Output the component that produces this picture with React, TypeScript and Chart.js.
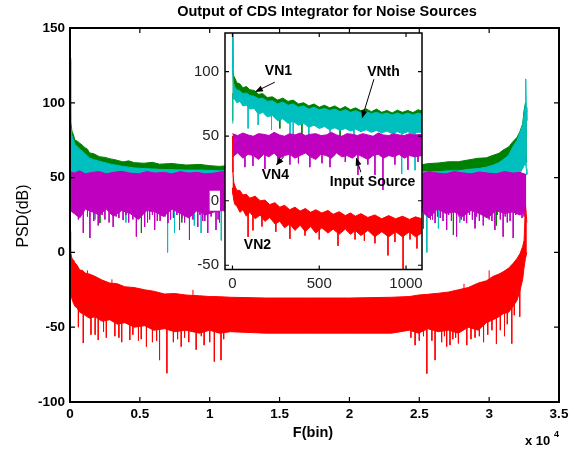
import React, { useEffect, useRef } from "react";
import { Chart, registerables } from "chart.js";

Chart.register(...registerables);

const FONT = '"Liberation Sans", Arial, Helvetica, sans-serif';
const GREEN = "#008000";
const CYAN = "#00bfbf";
const MAGENTA = "#bf00bf";
const RED = "#ff0000";

// ---------------- MAIN PLOT DATA (x in bins, y in dB) ----------------
const greenX = [0, 20, 70, 140, 250, 350, 500, 700, 900, 1070, 1250, 1400, 1700, 2100, 2500, 2900, 3200, 3800, 4200, 4600, 5300, 5900, 6400, 7300, 8300, 9300, 10000, 10700, 11500, 14000, 17000, 20000, 23000, 24300, 25000, 25700, 26400, 27100, 27800, 28500, 29200, 29800, 30300, 30700, 31000, 31400, 31700, 32000, 32200, 32400, 32500, 32600, 32700];
const greenHi = [130, 96, 88, 81, 78.5, 75, 74.5, 73, 71.5, 70, 69, 66.5, 66, 64, 63.5, 62.5, 62, 60.5, 61.2, 60, 59.6, 60.2, 59, 59.4, 58.4, 58.8, 58, 57.5, 58.2, 57, 57.5, 57, 57.5, 58.2, 58.4, 59.4, 59.8, 60.6, 60.6, 61.8, 62.9, 63.2, 65, 66.2, 68.4, 70.5, 74, 77, 80.7, 86, 95, 100, 94];
const greenLo = [60, 62, 60, 58, 56, 55, 54, 53, 52, 51, 50, 49, 48, 47, 46, 46, 45, 45, 44, 44, 44, 43, 43, 43, 43, 43, 43, 43, 43, 43, 43, 43, 43, 43, 43, 43, 43, 43, 43, 44, 44, 45, 45, 46, 47, 48, 50, 52, 55, 58, 62, 66, 60];
const greenDipX = [2140, 5110, 8000, 27440, 30520];
const greenDipFrom = [35, 35, 35, 35, 35];
const greenDipTo = [19.6, 13, 20, 11.6, 18];

const cyanX = [0, 20, 70, 140, 250, 350, 500, 700, 900, 1070, 1250, 1400, 1700, 2100, 2500, 2900, 3200, 3800, 4200, 4600, 5300, 5900, 6400, 7300, 8300, 9300, 10000, 10700, 11500, 14000, 17000, 20000, 23000, 24300, 25000, 25700, 26400, 27100, 27800, 28500, 29200, 29800, 30300, 30700, 31000, 31400, 31700, 32000, 32200, 32400, 32500, 32580, 32620, 32660, 32700];
const cyanHi = [128, 92, 84, 78, 75, 72, 71, 69, 67.5, 66, 64.5, 63, 62, 61, 60, 59, 58.5, 57.5, 57, 56.5, 56, 55.8, 55.5, 55.3, 55, 55, 54.8, 54.5, 54.5, 54, 54, 54, 54, 54, 54, 54, 54, 54.5, 54.5, 55.5, 56, 57, 58.4, 60, 62, 65, 70.7, 75, 80, 85, 92, 98, 116, 97, 88];
const cyanLo = [50, 50, 50, 49, 48, 47, 46, 45, 44, 44, 42, 42, 41, 41, 40, 40, 40, 40, 40, 40, 40, 40, 40, 40, 40, 40, 40, 40, 40, 40, 40, 40, 40, 40, 40, 40, 40, 40, 40, 40, 41, 41, 42, 43, 44, 45, 47, 50, 53, 56, 58, 60, 60, 56, 52];
const cyanDipX = [1800, 4000, 6985, 7480, 8900, 9385, 10830, 25540, 26370, 27900, 29000];
const cyanDipFrom = [35, 35, 35, 35, 35, 35, 35, 35, 35, 35, 35];
const cyanDipTo = [22, 20, 0, 13, 18, 13, 8, 0, 16, 20, 19];

const magX = [0, 300, 700, 1100, 1600, 2100, 2600, 3100, 3700, 4300, 4900, 5500, 6100, 6700, 7300, 7900, 8500, 9100, 9700, 10300, 10900, 11500, 14000, 17000, 20000, 23000, 24500, 25100, 25700, 26300, 26900, 27500, 28100, 28700, 29300, 29900, 30500, 31100, 31700, 32200, 32660];
const magHi = [54, 53, 54.5, 52.5, 53.5, 54, 52.5, 53.5, 54.2, 53, 52.5, 54, 53, 53.5, 52.5, 54, 53, 53.5, 52.5, 53, 54, 53, 53, 53, 53, 53, 53.5, 52.5, 54, 53, 52.5, 54, 53.2, 52.5, 53.8, 53, 52.5, 54, 53, 53.5, 52];
const magLo = [28, 26, 23, 29, 27, 25, 29, 24, 28, 26, 22, 28, 27, 24, 29, 26, 23, 28, 25, 27, 28, 27, 27, 27, 27, 27, 26, 28, 23, 29, 26, 27, 24, 28, 26, 23, 28, 26, 27, 25, 27];
const magDipX = [950, 1425, 2020, 2500, 3090, 3500, 3800, 4200, 4750, 5345, 5700, 6060, 6450, 7010, 7400, 7840, 8200, 8550, 9145, 9500, 9860, 10450, 10700, 24800, 25300, 25800, 26130, 26500, 26960, 27300, 27670, 28000, 28390, 28990, 29300, 29580, 30000, 30410, 31000, 31300, 31720, 32190, 32500,
  600, 1250, 1700, 2300, 2800, 3300, 4000, 4500, 5000, 5550, 5900, 6250, 6800, 7200, 7650, 8000, 8800, 9300, 9650, 10100, 10600, 24600, 25000, 25500, 25950, 26300, 26700, 27100, 27450, 27850, 28200, 28600, 28800, 29100, 29800, 30200, 30600, 30800, 31150, 31500, 31900, 32350];
const magDipFrom = [30, 30, 30, 30, 30, 30, 30, 30, 30, 30, 30, 30, 30, 30, 30, 30, 30, 30, 30, 30, 30, 30, 30, 30, 30, 30, 30, 30, 30, 30, 30, 30, 30, 30, 30, 30, 30, 30, 30, 30, 30, 30, 30,
  30, 30, 30, 30, 30, 30, 30, 30, 30, 30, 30, 30, 30, 30, 30, 30, 30, 30, 30, 30, 30, 30, 30, 30, 30, 30, 30, 30, 30, 30, 30, 30, 30, 30, 30, 30, 30, 30, 30, 30, 30, 30];
const magDipTo = [13, 9.6, 18, 22, 17, 23, 21.6, 20, 10.5, 17, 22, 15, 21, 19.6, 23, 15, 20, 8.3, 17, 21, 13, 15, 20, 21, 16, 22, 19.6, 23, 15, 21, 10.5, 22, 19.6, 16, 21, 18, 22, 15, 10.5, 20, 9.6, 26, 24,
  22, 24, 21, 25, 20, 24, 25, 22, 24, 20, 25, 21, 24, 22, 25, 23, 22, 25, 21, 24, 22, 24, 21, 25, 22, 24, 21, 25, 22, 24, 21, 25, 22, 24, 23, 21, 25, 22, 24, 21, 25, 23];

const redX = [0, 20, 70, 140, 250, 350, 500, 700, 900, 1070, 1400, 1780, 2300, 2850, 3400, 3920, 4600, 5345, 6000, 6770, 7500, 8300, 9265, 10000, 10690, 11500, 14000, 17000, 20000, 23000, 24300, 24950, 25600, 26370, 27100, 27800, 28500, 29220, 29800, 30290, 30700, 31000, 31400, 31720, 32000, 32220, 32400, 32500, 32600, 32700];
const redHi = [14, 2, 0, -4, -5, -7, -8.5, -11.8, -12, -13.8, -14.5, -16, -18.5, -20.5, -21, -23, -23.5, -25, -26, -27.8, -27.5, -28.5, -29, -29.5, -29.6, -30, -30.5, -30.5, -30.5, -30, -29.5, -28.5, -28, -27.3, -26.5, -25, -23.5, -20.5, -19, -16, -14.5, -13, -10.5, -7.3, -4, -0.6, 4, 8, 32, 20];
const redLo = [-32, -28, -30, -31, -34, -36, -37, -40, -41, -42, -44, -43, -46, -45, -48, -47, -50, -49, -52, -51, -53, -52, -54, -52, -54, -53, -54, -54, -54, -54, -52, -54, -51, -53, -52, -54, -50, -52, -47, -45, -43, -41, -40, -36, -32, -25, -18, -10, -4, 0];
const redSpikeX = [600, 950, 1500, 2020, 2600, 3210, 3700, 4280, 4900, 5470, 5900, 6410, 6935, 7400, 7960, 8500, 9030, 9600, 10330, 10810, 24700, 25540, 26130, 26600, 26960, 27400, 27800, 28400, 28990, 29600, 30520, 31100, 31620, 32190, 1250, 3000, 8800, 28200, 30000,
  1800, 2400, 3500, 4500, 5100, 6200, 7700, 8200, 9400, 10000, 11000, 24400, 25000, 25300, 25900, 26800, 27200, 27600, 28700, 29300, 29900, 30200, 30800, 31300, 31800];
const redSpikeFrom = [-35, -38, -41, -42, -43, -44, -45, -46, -47, -48, -49, -50, -50, -50, -50, -50, -50, -50, -50, -50, -50, -50, -49, -49, -49, -49, -49, -48, -48, -46, -40, -38, -34, -24, -30, -35, -40, -40, -30,
  -42, -44, -45, -46, -47, -48, -50, -50, -50, -50, -50, -50, -50, -50, -49, -49, -49, -49, -48, -47, -45, -43, -40, -38, -33];
const redSpikeTo = [-50, -60.6, -55, -58.6, -57, -56, -60, -58.6, -59, -63, -60, -72, -80.8, -60, -63, -60, -65, -62, -73, -72, -62, -81, -72, -60, -63, -58, -60.8, -62, -57, -60, -61, -56, -61, -43, -12, -18, -25, -21, -12,
  -55, -53, -57, -55, -58, -59, -58, -57, -56, -60, -58, -57, -59, -56, -59, -56, -62, -57, -58, -56, -55, -52, -52, -48, -42];

// ---------------- INSET DATA (first ~1100 bins) ----------------
const inXTicks = [0, 500, 1000];
const inYTicks = [-50, 0, 50, 100];

const inGX = [0, 2, 6, 14, 25, 43, 60, 80, 100, 125, 150, 175, 200, 230, 260, 290, 320, 350, 380, 410, 440, 470, 500, 530, 560, 590, 620, 650, 680, 710, 740, 770, 800, 830, 860, 890, 920, 950, 980, 1010, 1040, 1070, 1092];
const inGreenHi = [130, 103, 97, 95, 91.5, 90.5, 87.5, 88.5, 86, 85.5, 82.5, 83, 80, 80.5, 78, 79.5, 77, 78, 75, 76, 73.5, 75, 72.5, 74, 72, 73.5, 71, 73, 70.5, 72, 69.8, 71.2, 69, 71, 68.5, 70, 68, 70.2, 68.5, 70, 68.3, 70.5, 69.5];
const inGreenLo = [62, 83, 82, 81, 79, 79, 76, 76, 74, 74, 70, 71, 68, 68, 65, 66, 63, 64, 62, 62, 60, 61, 59, 60, 58, 59, 57, 58, 57, 58, 56, 57, 56, 57, 55, 56, 55, 56, 55, 56, 55, 55, 55];
const inCyanHi = [128, 98, 91, 88, 86, 85, 83, 83.5, 81.5, 81, 79, 79.5, 77, 77.5, 75, 76.5, 74, 75, 72.5, 73.5, 71, 72.5, 70.5, 71.5, 70, 71, 69, 70.5, 68.5, 69.8, 68, 69, 67.5, 68.5, 67, 68, 66.5, 68, 66.5, 68, 66.5, 68, 67];
const inCyanLo = [60, 80, 79, 78.5, 76, 77, 73.5, 74, 71, 71.5, 67, 68.5, 65, 66, 62, 63.5, 60, 61.5, 58.5, 60, 57, 58.5, 56, 57.5, 55, 56.5, 54.5, 56, 54, 55.5, 53.5, 55, 53, 54.5, 52.5, 54, 52, 53.5, 52, 53.5, 52, 53, 53];
const inCyanDipX = [90, 148, 225, 332, 350, 440, 562, 700, 975, 1052];
const inCyanDipFrom = [75, 70, 66, 62, 61, 59, 57, 56, 55, 55];
const inCyanDipTo = [56, 58.7, 55, 52, 51, 50, 50, 50, 20.8, 23.6];
const inGreenDipX = [273, 400, 620];
const inGreenDipFrom = [65, 62, 58];
const inGreenDipTo = [56, 50, 49];

const inMagX = [0, 30, 60, 90, 120, 150, 180, 210, 240, 270, 300, 330, 360, 390, 420, 450, 480, 510, 540, 570, 600, 630, 660, 690, 720, 750, 780, 810, 840, 870, 900, 930, 960, 990, 1020, 1050, 1092];
const inMagHi = [52, 50.5, 52.5, 51, 50, 52, 51.5, 50.5, 53, 51, 50, 52, 51, 52.5, 50.5, 51.5, 52, 50.5, 51, 53, 51, 50, 52, 51.5, 50.5, 52, 51, 50, 52.5, 51, 50.5, 52, 51, 50.5, 52, 51, 51.5];
const inMagLo = [34, 37, 33, 36, 35, 32, 36, 34, 37, 33, 35, 36, 33, 35, 37, 34, 32, 36, 35, 33, 37, 34, 35, 33, 36, 34, 32, 35, 36, 33, 35, 34, 36, 33, 35, 34, 35];
const inMagDipX = [72, 118, 187, 262, 331, 380, 446, 516, 562, 650, 723, 780, 821, 867, 936, 1011, 1069];
const inMagDipFrom = [40, 40, 40, 40, 40, 40, 40, 40, 40, 40, 40, 40, 40, 40, 40, 40, 40];
const inMagDipTo = [26, 27, 24.6, 30, 28, 29, 26, 29, 26, 30, 20, 28, 20, 8.4, 28, 24, 30];

const inRedX = [0, 3, 8, 14, 25, 43, 60, 80, 100, 131, 160, 187, 215, 245, 273, 300, 330, 360, 390, 420, 450, 480, 515, 550, 580, 615, 650, 680, 708, 740, 780, 820, 860, 900, 940, 980, 1020, 1054, 1092];
const inRedHi = [50, 22, 14, 11.5, 8, 8, 4.5, 5, 2, 3.5, 0, 0.5, -3, -1.5, -5, -3.5, -7, -5, -8, -6, -9, -7, -9.5, -7.5, -10.5, -8.5, -11.5, -9.5, -12, -10, -13, -11, -14, -11.5, -14, -12, -14.5, -12.5, -14];
const inRedLo = [10, 5, 0, -3, -4, -9, -7, -12, -9, -14, -11, -16, -13, -18, -16, -21, -18, -23, -19, -24, -20, -25, -21, -25, -22, -26, -22, -26, -23, -27, -23, -28, -24, -28, -24, -28, -24, -28, -25];
const inRedDipX = [90, 118, 170, 250, 331, 418, 500, 608, 706, 760, 821, 896, 936, 983, 1023, 1063];
const inRedDipFrom = [-7, -9, -12, -15, -18, -20, -21, -21, -22, -22, -22, -23, -23, -23, -23, -23];
const inRedDipTo = [-28, -23, -20, -24, -29.5, -27, -30, -35, -30, -31, -33, -42.4, -32, -56, -30, -37];

// inset annotations, in inset data coordinates
const insetLabels = [
  { text: "VN1", x: 265, y: 100.2 },
  { text: "VNth", x: 870, y: 99.7 },
  { text: "VN4", x: 247, y: 20 },
  { text: "Input Source", x: 807, y: 14.5 },
  { text: "VN2", x: 144, y: -34.8 },
];
const insetArrows = [
  { x1: 244, y1: 91.9, x2: 129, y2: 84.3 },
  { x1: 815, y1: 94.2, x2: 746, y2: 63.8 },
  { x1: 296, y1: 34.2, x2: 250, y2: 27.4 },
  { x1: 740, y1: 22.1, x2: 712, y2: 33.5 },
];

// ---------------- helpers ----------------
function band(xs: number[], hi: number[], lo: number[], color: string, order: number) {
  const common = { borderColor: color, backgroundColor: color, borderWidth: 1, pointRadius: 0, pointHitRadius: 0, order, tension: 0 };
  return [
    { ...common, data: xs.map((x, i) => ({ x, y: hi[i] })), fill: "+1" },
    { ...common, data: xs.map((x, i) => ({ x, y: lo[i] })), fill: false },
  ];
}
function spikes(xs: number[], from: number[], to: number[], color: string, order: number) {
  const data: any[] = [];
  xs.forEach((x, i) => {
    data.push({ x, y: from[i] }, { x, y: to[i] }, { x, y: null });
  });
  return { data, borderColor: color, borderWidth: 1, pointRadius: 0, pointHitRadius: 0, fill: false, spanGaps: false, order };
}

function framePlugin(lw: number, tl: number) {
  return {
    id: "frame",
    afterDatasetsDraw(chart: any) {
      const { ctx, chartArea: a, scales } = chart;
      ctx.save();
      ctx.strokeStyle = "#000";
      ctx.lineWidth = 1.2;
      ctx.beginPath();
      for (const t of scales.x.ticks) {
        const p = scales.x.getPixelForValue(t.value);
        ctx.moveTo(p, a.bottom);
        ctx.lineTo(p, a.bottom - tl);
        ctx.moveTo(p, a.top);
        ctx.lineTo(p, a.top + tl);
      }
      for (const t of scales.y.ticks) {
        const p = scales.y.getPixelForValue(t.value);
        ctx.moveTo(a.left, p);
        ctx.lineTo(a.left + tl, p);
        ctx.moveTo(a.right, p);
        ctx.lineTo(a.right - tl, p);
      }
      ctx.stroke();
      ctx.lineWidth = lw;
      ctx.strokeRect(a.left, a.top, a.right - a.left, a.bottom - a.top);
      ctx.restore();
    },
  };
}

const whiteAreaPlugin = {
  id: "whiteArea",
  beforeDraw(chart: any) {
    const { ctx, chartArea: a } = chart;
    ctx.save();
    ctx.fillStyle = "#fff";
    ctx.fillRect(a.left, a.top, a.right - a.left, a.bottom - a.top);
    ctx.restore();
  },
};

const annotationPlugin = {
  id: "insetNotes",
  afterDraw(chart: any) {
    const { ctx, scales } = chart;
    const sx = scales.x, sy = scales.y;
    ctx.save();
    ctx.fillStyle = "#000";
    ctx.strokeStyle = "#000";
    ctx.lineWidth = 1;
    ctx.font = `bold 14px ${FONT}`;
    ctx.textAlign = "center";
    ctx.textBaseline = "middle";
    for (const l of insetLabels) ctx.fillText(l.text, sx.getPixelForValue(l.x), sy.getPixelForValue(l.y));
    for (const ar of insetArrows) {
      const x1 = sx.getPixelForValue(ar.x1), y1 = sy.getPixelForValue(ar.y1);
      const x2 = sx.getPixelForValue(ar.x2), y2 = sy.getPixelForValue(ar.y2);
      const ang = Math.atan2(y2 - y1, x2 - x1);
      const L = 8, W = 3;
      ctx.beginPath();
      ctx.moveTo(x1, y1);
      ctx.lineTo(x2 - L * 0.6 * Math.cos(ang), y2 - L * 0.6 * Math.sin(ang));
      ctx.stroke();
      ctx.beginPath();
      ctx.moveTo(x2, y2);
      ctx.lineTo(x2 - L * Math.cos(ang) + W * Math.sin(ang), y2 - L * Math.sin(ang) - W * Math.cos(ang));
      ctx.lineTo(x2 - L * Math.cos(ang) - W * Math.sin(ang), y2 - L * Math.sin(ang) + W * Math.cos(ang));
      ctx.closePath();
      ctx.fill();
    }
    ctx.restore();
  },
};

const mainTextPlugin = {
  id: "mainText",
  afterDraw(chart: any) {
    const { ctx } = chart;
    ctx.save();
    ctx.fillStyle = "#000";
    ctx.textBaseline = "middle";
    ctx.textAlign = "center";
    ctx.font = `bold 14.5px ${FONT}`;
    ctx.fillText("Output of CDS Integrator for Noise Sources", 327, 12);
    ctx.fillText("F(bin)", 313, 433);
    ctx.font = `16px ${FONT}`;
    ctx.save();
    ctx.translate(24, 216);
    ctx.rotate(-Math.PI / 2);
    ctx.fillText("PSD(dB)", 0, 0);
    ctx.restore();
    ctx.textAlign = "left";
    ctx.font = `bold 13px ${FONT}`;
    ctx.fillText("x 10", 525, 441);
    ctx.font = `bold 9px ${FONT}`;
    ctx.fillText("4", 554, 435);
    ctx.restore();
  },
};

const baseOptions = {
  animation: false as const,
  responsive: false,
  events: [] as any[],
  plugins: { legend: { display: false }, tooltip: { enabled: false }, title: { display: false } },
  elements: { point: { radius: 0 }, line: { tension: 0 } },
};

export default function App() {
  const mainRef = useRef<HTMLCanvasElement>(null);
  const insetRef = useRef<HTMLCanvasElement>(null);

  useEffect(() => {
    const mainDatasets: any[] = [
      ...band(redX, redHi, redLo, RED, 0),
      spikes(redSpikeX, redSpikeFrom, redSpikeTo, RED, 0),
      ...band(magX, magHi, magLo, MAGENTA, 1),
      spikes(magDipX, magDipFrom, magDipTo, MAGENTA, 1),
      ...band(cyanX, cyanHi, cyanLo, CYAN, 2),
      spikes(cyanDipX, cyanDipFrom, cyanDipTo, CYAN, 2),
      ...band(greenX, greenHi, greenLo, GREEN, 3),
      spikes(greenDipX, greenDipFrom, greenDipTo, GREEN, 3),
    ];
    const main = new Chart(mainRef.current!, {
      type: "line",
      data: { datasets: mainDatasets },
      options: {
        ...baseOptions,
        layout: { padding: { left: 0, right: 21, top: 28, bottom: 0 } },
        scales: {
          x: {
            type: "linear", min: 0, max: 35000,
            afterFit: (s: any) => { s.height = 48; },
            grid: { display: false, drawTicks: false }, border: { display: false },
            ticks: {
              stepSize: 5000, includeBounds: false, autoSkip: false, maxRotation: 0, padding: 4, color: "#000",
              font: { family: FONT, size: 13.5, weight: "bold" },
              callback: (v: any) => String(+(Number(v) / 10000).toFixed(1)),
            },
          },
          y: {
            type: "linear", min: -100, max: 150,
            afterFit: (s: any) => { s.width = 70; },
            grid: { display: false, drawTicks: false }, border: { display: false },
            ticks: { stepSize: 50, includeBounds: false, padding: 5, color: "#000", font: { family: FONT, size: 13.5, weight: "bold" } },
          },
        },
      } as any,
      plugins: [framePlugin(2, 5), mainTextPlugin],
    });

    const insetDatasets: any[] = [
      ...band(inRedX, inRedHi, inRedLo, RED, 0),
      spikes(inRedDipX, inRedDipFrom, inRedDipTo, RED, 0),
      ...band(inMagX, inMagHi, inMagLo, MAGENTA, 1),
      spikes(inMagDipX, inMagDipFrom, inMagDipTo, MAGENTA, 1),
      ...band(inGX, inCyanHi, inCyanLo, CYAN, 2),
      spikes(inCyanDipX, inCyanDipFrom, inCyanDipTo, CYAN, 2),
      ...band(inGX, inGreenHi, inGreenLo, GREEN, 3),
      spikes(inGreenDipX, inGreenDipFrom, inGreenDipTo, GREEN, 3),
    ];
    const inset = new Chart(insetRef.current!, {
      type: "line",
      data: { datasets: insetDatasets },
      options: {
        ...baseOptions,
        layout: { padding: { left: 0, right: 8, top: 8.5, bottom: 0 } },
        scales: {
          x: {
            type: "linear", min: -43, max: 1092,
            afterFit: (s: any) => { s.height = 30.5; },
            afterBuildTicks: (s: any) => { s.ticks = inXTicks.map((v) => ({ value: v })); },
            grid: { display: false, drawTicks: false }, border: { display: false },
            ticks: {
              autoSkip: false, maxRotation: 0, padding: 5, color: "#222", font: { family: FONT, size: 15 },
              callback: (v: any) => String(v),
            },
          },
          y: {
            type: "linear", min: -53.3, max: 130,
            afterFit: (s: any) => { s.width = 45; },
            afterBuildTicks: (s: any) => { s.ticks = inYTicks.map((v) => ({ value: v })); },
            grid: { display: false, drawTicks: false }, border: { display: false },
            ticks: {
              autoSkip: false, padding: 6, color: "#222", font: { family: FONT, size: 15 },
              callback: (v: any) => String(v),
              showLabelBackdrop: true, backdropColor: "#fff", backdropPadding: 1,
            },
          },
        },
      } as any,
      plugins: [whiteAreaPlugin, framePlugin(1.5, 4), annotationPlugin],
    });

    return () => {
      main.destroy();
      inset.destroy();
    };
  }, []);

  return (
    <div style={{ position: "absolute", left: 0, top: 0, width: 580, height: 450, background: "#fff" }}>
      <canvas ref={mainRef} width={580} height={450} style={{ position: "absolute", left: 0, top: 0, width: 580, height: 450 }} />
      <canvas ref={insetRef} width={250} height={282} style={{ position: "absolute", left: 180, top: 18, width: 250, height: 282 }} />
    </div>
  );
}
